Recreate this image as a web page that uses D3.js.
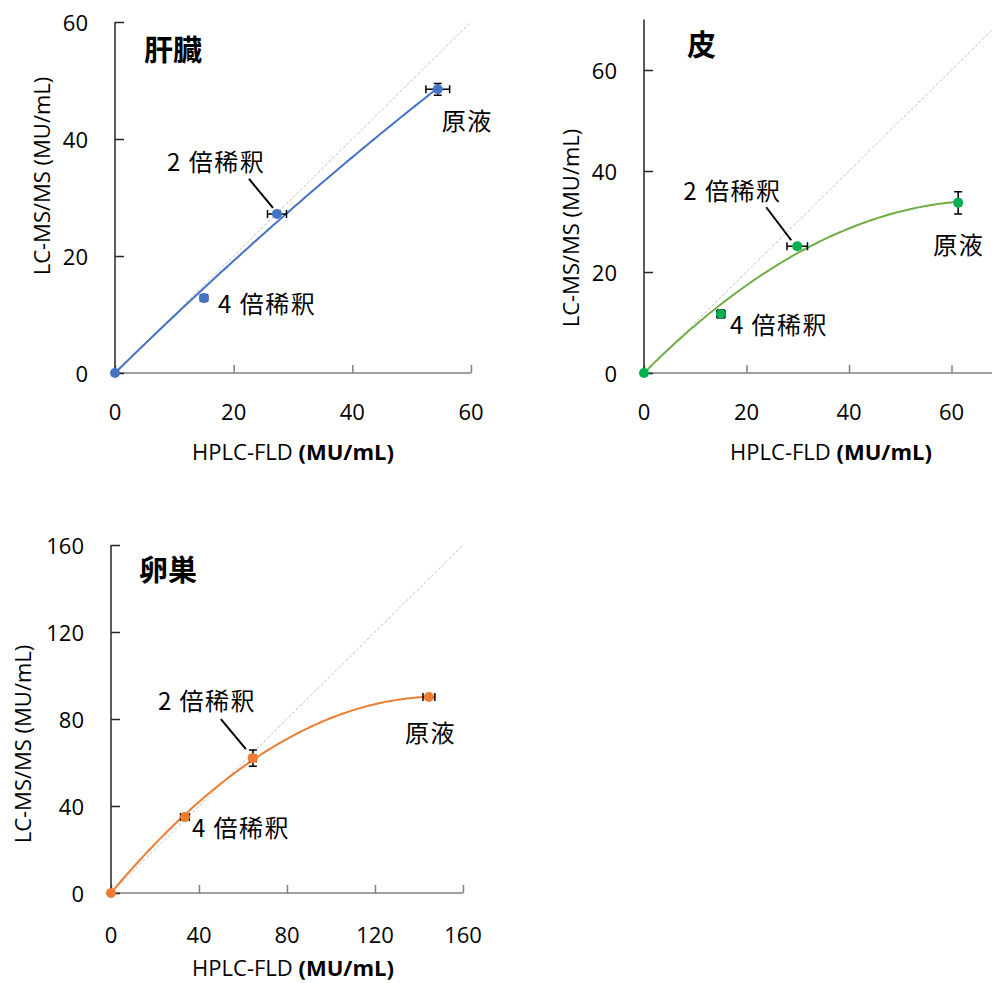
<!DOCTYPE html>
<html><head><meta charset="utf-8">
<script src="https://cdn.jsdelivr.net/npm/d3@7"></script>
<style>
html,body{margin:0;padding:0;background:#fff;}
svg{display:block;}
</style></head>
<body>
<svg id="c" width="992" height="983"></svg>
<script>
// ---------- data ----------
const sampleLabels = ["", "4 倍稀釈", "2 倍稀釈", "原液"];
const panelTitles = ["肝臓", "皮", "卵巣"];

const liverX    = [0, 15.0, 27.3, 54.4];
const liverY    = [0, 12.8, 27.2, 48.5];
const liverXErr = [0, 0.6, 1.6, 2.0];
const liverYErr = [0, 0.3, 0.4, 1.0];

const skinX    = [0, 15.0, 29.9, 61.3];
const skinY    = [0, 11.7, 25.1, 33.7];
const skinXErr = [0, 0.8, 2.0, 0.5];
const skinYErr = [0, 0.8, 0.5, 2.2];

const ovaryX    = [0, 33.6, 64.5, 144.5];
const ovaryY    = [0, 34.9, 62.0, 90.1];
const ovaryXErr = [0, 2.0, 1.5, 2.7];
const ovaryYErr = [0, 1.0, 3.7, 0.8];

const ticks60  = [0, 20, 40, 60];
const ticks160 = [0, 40, 80, 120, 160];

const xTitle = "HPLC-FLD";
const xTitleUnit = "(MU/mL)";
const yTitle = "LC-MS/MS (MU/mL)";

// ---------- layout ----------
const panels = [
  {title: panelTitles[0], xs: liverX, ys: liverY, xe: liverXErr, ye: liverYErr,
   xDom: [0,60], yDom: [0,60], xTicks: ticks60, yTicks: ticks60,
   left: 115, right: 471, bottom: 373, top: 22,
   line: "#4472C4", marker: "#4472C4",
   titlePos: [144, 48], yTitlePos: [41, 176], xTitlePos: [293, 451], xTickDy: 38,
   labelOff: [null, [14, 4], [-110, -53], [4, 30]], leader: [[-28,-35],[-4,-6]]},
  {title: panelTitles[1], xs: skinX, ys: skinY, xe: skinXErr, ye: skinYErr,
   xDom: [0,70], yDom: [0,70], xTicks: ticks60, yTicks: ticks60,
   left: 644, right: 1002.75, bottom: 373, top: 19.5,
   line: "#70AD47", marker: "#00B050",
   titlePos: [687, 43], yTitlePos: [570, 228], xTitlePos: [831, 451], xTickDy: 38,
   labelOff: [null, [9, 10], [-114, -57], [-25, 41]], leader: [[-31,-39],[-6,-6]]},
  {title: panelTitles[2], xs: ovaryX, ys: ovaryY, xe: ovaryXErr, ye: ovaryYErr,
   xDom: [0,160], yDom: [0,160], xTicks: ticks160, yTicks: ticks160,
   left: 111, right: 463, bottom: 893, top: 545,
   line: "#ED7D31", marker: "#ED7D31",
   titlePos: [139, 568], yTitlePos: [22, 744], xTitlePos: [293, 967], xTickDy: 41,
   labelOff: [null, [7, 9], [-95, -59], [-24, 34]], leader: [[-32,-39],[-7,-9]]}
];

const svg = d3.select("#c");
const numFont = "'Open Sans', 'Liberation Sans', sans-serif";
const cjkFont = "'Noto Sans CJK JP', 'Noto Sans', sans-serif";

// least-squares quadratic trendline through origin (y = a x + b x^2)
function quadFit(xs, ys) {
  let s2=0,s3=0,s4=0,sxy=0,sx2y=0;
  xs.forEach((x,i)=>{const y=ys[i]; s2+=x*x; s3+=x*x*x; s4+=x*x*x*x; sxy+=x*y; sx2y+=x*x*y;});
  const det = s2*s4 - s3*s3;
  const a = (sxy*s4 - s3*sx2y)/det;
  const b = (s2*sx2y - s3*sxy)/det;
  return x => a*x + b*x*x;
}

panels.forEach(p => {
  const x = d3.scaleLinear().domain(p.xDom).range([p.left, p.right]);
  const y = d3.scaleLinear().domain(p.yDom).range([p.bottom, p.top]);
  const g = svg.append("g");

  // y=x reference line
  const dmax = Math.min(p.xDom[1], p.yDom[1]);
  g.append("line")
    .attr("x1", x(0)).attr("y1", y(0)).attr("x2", x(dmax)).attr("y2", y(dmax))
    .attr("stroke", "#BFBFBF").attr("stroke-width", 1).attr("stroke-dasharray", "3,2");

  // axes
  const xAxis = d3.axisBottom(x).tickValues(p.xTicks).tickSizeInner(-8).tickSizeOuter(0).tickFormat("");
  const gx = g.append("g").attr("transform", `translate(0,${p.bottom})`).call(xAxis);
  gx.selectAll("path,line").attr("stroke", "#7F7F7F").attr("stroke-width", 1.5);
  gx.select(".domain").attr("d", `M${p.left},0H${p.right}`);
  const yAxis = d3.axisLeft(y).tickValues(p.yTicks).tickSizeInner(-9).tickSizeOuter(0).tickFormat("");
  const gy = g.append("g").attr("transform", `translate(${p.left},0)`).call(yAxis);
  gy.selectAll("path,line").attr("stroke", "#262626").attr("stroke-width", 1.5);
  gy.select(".domain").attr("d", `M0,${p.bottom}V${p.top}`);

  // tick labels
  g.selectAll(".xl").data(p.xTicks).enter().append("text")
    .attr("x", d => x(d)).attr("y", p.bottom + p.xTickDy)
    .attr("text-anchor", "middle").attr("dominant-baseline", "central")
    .attr("font-family", numFont).attr("font-size", 22).attr("fill", "#000")
    .text(d => d);
  g.selectAll(".yl").data(p.yTicks).enter().append("text")
    .attr("x", p.left - 27).attr("y", d => y(d))
    .attr("text-anchor", "end").attr("dominant-baseline", "central")
    .attr("font-family", numFont).attr("font-size", 22).attr("fill", "#000")
    .text(d => d);

  // axis titles
  const xt = g.append("text")
    .attr("x", p.xTitlePos[0]).attr("y", p.xTitlePos[1])
    .attr("text-anchor", "middle").attr("dominant-baseline", "central")
    .attr("font-family", numFont).attr("font-size", 22).attr("fill", "#000");
  xt.append("tspan").text(xTitle + " ");
  xt.append("tspan").attr("font-weight", "bold").text(xTitleUnit);
  g.append("text")
    .attr("transform", `translate(${p.yTitlePos[0]},${p.yTitlePos[1]}) rotate(-90)`)
    .attr("text-anchor", "middle").attr("dominant-baseline", "central")
    .attr("font-family", numFont).attr("font-size", 22).attr("fill", "#000")
    .text(yTitle);

  // panel title
  g.append("text")
    .attr("x", p.titlePos[0]).attr("y", p.titlePos[1])
    .attr("dominant-baseline", "central")
    .attr("font-family", cjkFont).attr("font-size", 29).attr("font-weight", "bold").attr("fill", "#000")
    .text(p.title);

  // trendline
  const f = quadFit(p.xs, p.ys);
  const xmax = d3.max(p.xs);
  const pts = d3.range(0, 101).map(i => xmax * i / 100);
  g.append("path")
    .attr("d", d3.line().x(d => x(d)).y(d => y(f(d)))(pts))
    .attr("fill", "none").attr("stroke", p.line).attr("stroke-width", 2);

  const idx = d3.range(p.xs.length);
  // error bars
  const cap = 4;
  idx.forEach(i => {
    const cx = x(p.xs[i]), cy = y(p.ys[i]);
    if (p.xe[i] > 0) {
      const x0 = x(p.xs[i] - p.xe[i]), x1 = x(p.xs[i] + p.xe[i]);
      g.append("path").attr("d", `M${x0},${cy}H${x1}M${x0},${cy-cap}V${cy+cap}M${x1},${cy-cap}V${cy+cap}`)
        .attr("stroke", "#000").attr("stroke-width", 1.5).attr("fill", "none");
    }
    if (p.ye[i] > 0) {
      const y0 = y(p.ys[i] - p.ye[i]), y1 = y(p.ys[i] + p.ye[i]);
      g.append("path").attr("d", `M${cx},${y0}V${y1}M${cx-cap},${y0}H${cx+cap}M${cx-cap},${y1}H${cx+cap}`)
        .attr("stroke", "#000").attr("stroke-width", 1.5).attr("fill", "none");
    }
  });

  // markers
  g.selectAll(".pt").data(idx).enter().append("circle")
    .attr("cx", i => x(p.xs[i])).attr("cy", i => y(p.ys[i])).attr("r", 5)
    .attr("fill", p.marker);

  // labels
  idx.forEach(i => {
    const off = p.labelOff[i];
    if (!off) return;
    g.append("text")
      .attr("x", x(p.xs[i]) + off[0]).attr("y", y(p.ys[i]) + off[1])
      .attr("dominant-baseline", "central")
      .attr("font-family", cjkFont).attr("font-size", 24).attr("letter-spacing", 1.5)
      .attr("xml:space", "preserve").attr("fill", "#000")
      .text(sampleLabels[i]);
  });
  // leader line for 2x dilution label
  const lx = x(p.xs[2]), ly = y(p.ys[2]);
  g.append("line")
    .attr("x1", lx + p.leader[0][0]).attr("y1", ly + p.leader[0][1])
    .attr("x2", lx + p.leader[1][0]).attr("y2", ly + p.leader[1][1])
    .attr("stroke", "#000").attr("stroke-width", 2);
});
</script>
</body></html>
